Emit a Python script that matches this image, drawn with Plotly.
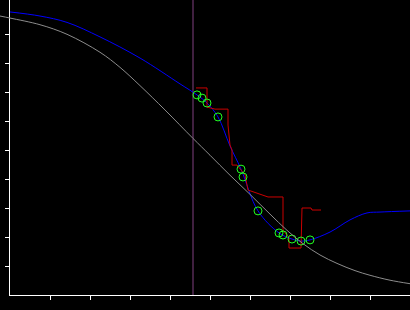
import plotly.graph_objects as go

# gray reference curve
gray_x = [-0.25, 0.0, 0.75, 1.425, 2.25, 2.75, 3.25, 3.875, 4.575, 5.0, 5.5, 6.0, 6.5,
          6.925, 7.325, 7.75, 8.175, 8.625, 9.0, 9.5, 10.0]
gray_y = [9.62, 9.55, 9.32, 8.99, 8.37, 7.85, 7.22, 6.38, 5.40, 4.82, 4.13, 3.47, 2.79,
          2.23, 1.77, 1.38, 1.09, 0.84, 0.68, 0.51, 0.39]

# blue fitted curve
blue_x = [0.0, 0.75, 1.425, 2.25, 3.25, 4.25, 4.675, 4.925, 5.2, 5.5, 5.775, 6.2, 6.725, 7.05, 7.275, 7.5, 8.0, 8.5, 8.925, 9.25, 10.0]
blue_y = [9.76, 9.62, 9.40, 8.90, 8.17, 7.28, 6.90, 6.62, 6.14, 5.14, 4.34, 2.90, 2.14, 1.93, 1.86, 1.90, 2.17, 2.59, 2.83, 2.86, 2.90]

# green observations
obs_x = [4.675, 4.8, 4.925, 5.2, 5.775, 5.825, 6.2, 6.725, 6.825, 7.05, 7.275, 7.5]
obs_y = [6.90, 6.79, 6.62, 6.14, 4.34, 4.07, 2.90, 2.14, 2.07, 1.93, 1.86, 1.90]

# red step line
red_x = [4.65, 4.925, 4.925, 5.125, 5.45, 5.45, 5.5, 5.55, 5.55, 5.675, 5.875, 5.95, 6.45, 6.825, 6.825, 6.975, 6.975, 7.275, 7.3, 7.525, 7.55, 7.775]
red_y = [7.14, 7.14, 6.48, 6.41, 6.41, 5.86, 5.17, 5.0, 4.48, 4.48, 4.14, 3.62, 3.38, 3.38, 2.24, 1.97, 1.62, 1.62, 3.0, 3.0, 2.93, 2.93]

# vertical marker line
vline_x = [4.575, 4.575]
vline_y = [0.0, 10.2]

x_ticks = [1, 2, 3, 4, 5, 6, 7, 8, 9]
y_ticks = [1, 2, 3, 4, 5, 6, 7, 8, 9]

fig = go.Figure()
fig.add_trace(go.Scatter(x=vline_x, y=vline_y, mode="lines", xaxis="x", yaxis="y",
                         line=dict(color="#804080", width=1), hoverinfo="skip"))
fig.add_trace(go.Scatter(x=gray_x, y=gray_y, mode="lines", xaxis="x2", yaxis="y",
                         line=dict(color="#8c8c8c", width=1, shape="spline", smoothing=1)))
fig.add_trace(go.Scatter(x=blue_x, y=blue_y, mode="lines", xaxis="x", yaxis="y",
                         line=dict(color="#0000ff", width=1, shape="spline")))
fig.add_trace(go.Scatter(x=red_x, y=red_y, mode="lines", xaxis="x", yaxis="y",
                         line=dict(color="#cc0000", width=1)))
fig.add_trace(go.Scatter(x=obs_x, y=obs_y, mode="markers", xaxis="x", yaxis="y",
                         marker=dict(symbol="circle-open", size=8, color="#22ff22",
                                     line=dict(width=1, color="#22ff22"))))

fig.update_layout(
    width=410, height=310,
    margin=dict(l=0, r=0, t=0, b=15),
    paper_bgcolor="black", plot_bgcolor="rgba(0,0,0,0)",
    showlegend=False,
    xaxis=dict(domain=[10 / 410, 1], range=[0, 10], anchor="y",
               showgrid=False, zeroline=False, showline=True, linecolor="white", linewidth=1,
               ticks="outside", ticklen=4, tickwidth=1, tickcolor="white",
               tickvals=x_ticks, showticklabels=False),
    xaxis2=dict(domain=[0, 1], range=[-0.25, 10], anchor="y", visible=False,
                showgrid=False, zeroline=False),
    yaxis=dict(domain=[0, 1], range=[0, 295 / 29], anchor="x",
               showgrid=False, zeroline=False, showline=True, linecolor="white", linewidth=1,
               ticks="outside", ticklen=4, tickwidth=1, tickcolor="white",
               tickvals=y_ticks, showticklabels=False),
)

fig.write_html("out.html")
